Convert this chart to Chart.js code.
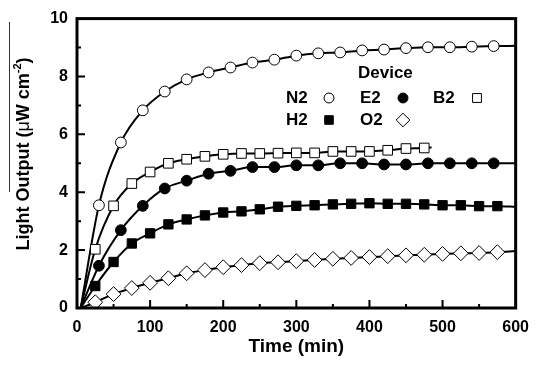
<!DOCTYPE html>
<html>
<head>
<meta charset="utf-8">
<script src="https://cdn.jsdelivr.net/npm/chart.js@4.4.0/dist/chart.umd.min.js"></script>
<style>
    html, body { margin: 0; padding: 0; background: #fff; }
    #wrap { width: 539px; height: 365px; }
</style>
</head>
<body>
<div id="wrap"><canvas id="myChart"></canvas></div>
<script>
// values (time in min, light output in uW/cm2)
const n2Time = [30, 60, 90, 120, 150, 180, 210, 240, 270, 300, 330, 360, 390, 420, 450, 480, 510, 540, 570];
const n2Values = [3.55, 5.72, 6.83, 7.48, 7.9, 8.14, 8.31, 8.48, 8.58, 8.72, 8.8, 8.83, 8.9, 8.93, 8.98, 9.01, 9.01, 9.03, 9.05];

const e2Time = [30, 60, 90, 120, 150, 180, 210, 240, 270, 300, 330, 360, 390, 420, 450, 480, 510, 540, 570];
const e2Values = [1.46, 2.69, 3.53, 4.13, 4.4, 4.64, 4.74, 4.87, 4.87, 4.93, 4.93, 5.0, 5.0, 4.96, 4.96, 5.0, 5.0, 5.0, 5.0];

const b2Time = [25, 50, 75, 100, 125, 150, 175, 200, 225, 250, 275, 300, 325, 350, 375, 400, 425, 450, 475];
const b2Values = [2.03, 3.53, 4.3, 4.7, 5.0, 5.14, 5.24, 5.31, 5.34, 5.34, 5.35, 5.36, 5.36, 5.41, 5.41, 5.41, 5.45, 5.51, 5.53];

const h2Time = [25, 50, 75, 100, 125, 150, 175, 200, 225, 250, 275, 300, 325, 350, 375, 400, 425, 450, 475, 500, 525, 550, 575];
const h2Values = [0.76, 1.59, 2.23, 2.58, 2.89, 3.06, 3.2, 3.3, 3.34, 3.41, 3.5, 3.53, 3.55, 3.58, 3.6, 3.62, 3.6, 3.6, 3.58, 3.55, 3.55, 3.52, 3.52];

const o2Time = [25, 50, 75, 100, 125, 150, 175, 200, 225, 250, 275, 300, 325, 350, 375, 400, 425, 450, 475, 500, 525, 550, 575];
const o2Values = [0.2, 0.48, 0.69, 0.87, 1.03, 1.2, 1.31, 1.41, 1.48, 1.55, 1.58, 1.62, 1.66, 1.7, 1.73, 1.76, 1.79, 1.82, 1.84, 1.87, 1.89, 1.9, 1.93];

// fitted curves: start point, then through the markers, then end point
const fitStart = { x: 5, y: 0 };
const n2FitEnd = { x: 600, y: 9.06 };
const e2FitEnd = { x: 600, y: 5.0 };
const b2FitEnd = { x: 485, y: 5.55 };
const h2FitEnd = { x: 600, y: 3.5 };
const o2FitEnd = { x: 600, y: 1.97 };

const legendRows = [
    [{ name: 'N2', key: 'n2' }, { name: 'E2', key: 'e2' }, { name: 'B2', key: 'b2' }],
    [{ name: 'H2', key: 'h2' }, { name: 'O2', key: 'o2' }]
];

const markerStyle = {
    n2: { pointStyle: 'circle', radius: 5.4, fill: '#fff' },
    e2: { pointStyle: 'circle', radius: 5.4, fill: '#000' },
    b2: { pointStyle: 'rect', radius: 6.8, fill: '#fff' },
    h2: { pointStyle: 'rect', radius: 6.6, fill: '#000' },
    o2: { pointStyle: 'rectRot', radius: 7.4, fill: '#fff' }
};

function toPoints(times, values) {
    return times.map((t, i) => ({ x: t, y: values[i] }));
}

function fitLine(times, values, end) {
    return {
        type: 'line',
        data: [fitStart].concat(toPoints(times, values), [end]),
        borderColor: '#000',
        borderWidth: 2,
        pointRadius: 0,
        cubicInterpolationMode: 'monotone',
        fill: false,
        order: 2
    };
}

function markers(times, values, key) {
    const m = markerStyle[key];
    return {
        type: 'line',
        showLine: false,
        data: toPoints(times, values),
        pointStyle: m.pointStyle,
        pointRadius: m.radius,
        pointBackgroundColor: m.fill,
        pointBorderColor: '#000',
        pointBorderWidth: 1,
        order: 1
    };
}

const frameAndLegend = {
    id: 'frameAndLegend',
    afterDraw(chart) {
        const ctx = chart.ctx;
        const a = chart.chartArea;
        const xs = chart.scales.x;
        const ys = chart.scales.y;
        ctx.save();
        ctx.strokeStyle = '#000';

        // inward ticks
        ctx.lineWidth = 2;
        ctx.beginPath();
        for (let v = 50; v < 600; v += 50) {
            const px = xs.getPixelForValue(v);
            const len = v % 100 === 0 ? 8 : 4;
            ctx.moveTo(px, a.bottom);
            ctx.lineTo(px, a.bottom - len);
        }
        for (let v = 1; v < 10; v += 1) {
            const py = ys.getPixelForValue(v);
            const len = v % 2 === 0 ? 8 : 4;
            ctx.moveTo(a.left, py);
            ctx.lineTo(a.left + len, py);
        }
        ctx.stroke();

        // frame
        ctx.lineWidth = 3;
        ctx.strokeRect(a.left, a.top, a.right - a.left, a.bottom - a.top);

        // legend
        ctx.fillStyle = '#000';
        ctx.font = 'bold 17px "Liberation Sans", Arial, sans-serif';
        ctx.textBaseline = 'middle';
        ctx.textAlign = 'left';
        ctx.fillText('Device', 358, 73);
        const textX = [286, 360, 433];
        const markX = [329, 403, 477];
        const rowY = [98, 120];
        legendRows.forEach((row, r) => {
            row.forEach((item, c) => {
                ctx.fillStyle = '#000';
                ctx.fillText(item.name, textX[c], rowY[r]);
                const m = markerStyle[item.key];
                ctx.fillStyle = m.fill;
                ctx.strokeStyle = '#000';
                ctx.lineWidth = 1;
                Chart.helpers.drawPoint(ctx, {
                    pointStyle: m.pointStyle,
                    radius: m.radius * 0.92,
                    borderWidth: 1,
                    rotation: 0
                }, markX[c], rowY[r]);
            });
        });

        // y axis title with superscript
        ctx.fillStyle = '#000';
        ctx.translate(29, 154);
        ctx.rotate(-Math.PI / 2);
        ctx.textBaseline = 'alphabetic';
        const bold = 'bold 18px "Liberation Sans", Arial, sans-serif';
        const plain = '18px "Liberation Sans", Arial, sans-serif';
        const small = 'bold 11px "Liberation Sans", Arial, sans-serif';
        const parts = [
            { t: 'Light Output (', f: bold, dy: 0 },
            { t: 'μ', f: plain, dy: 0 },
            { t: 'W cm', f: bold, dy: 0 },
            { t: '-2', f: small, dy: -8 },
            { t: ')', f: bold, dy: 0 }
        ];
        let total = 0;
        parts.forEach(p => { ctx.font = p.f; p.w = ctx.measureText(p.t).width; total += p.w; });
        let cx = -total / 2;
        parts.forEach(p => {
            ctx.font = p.f;
            ctx.fillText(p.t, cx, p.dy);
            cx += p.w;
        });
        ctx.restore();

        // thin stray line left of the y title
        ctx.save();
        ctx.strokeStyle = '#333';
        ctx.lineWidth = 1;
        ctx.beginPath();
        ctx.moveTo(9.5, 22);
        ctx.lineTo(9.5, 192);
        ctx.stroke();
        ctx.restore();
    }
};

const tickFont = { family: '"Liberation Sans", Arial, sans-serif', size: 16, weight: 'bold' };

const config = {
    type: 'line',
    data: {
        datasets: [
            markers(n2Time, n2Values, 'n2'),
            markers(e2Time, e2Values, 'e2'),
            markers(b2Time, b2Values, 'b2'),
            markers(h2Time, h2Values, 'h2'),
            markers(o2Time, o2Values, 'o2'),
            fitLine(n2Time, n2Values, n2FitEnd),
            fitLine(e2Time, e2Values, e2FitEnd),
            fitLine(b2Time, b2Values, b2FitEnd),
            fitLine(h2Time, h2Values, h2FitEnd),
            fitLine(o2Time, o2Values, o2FitEnd)
        ]
    },
    options: {
        responsive: true,
        maintainAspectRatio: false,
        animation: false,
        layout: { padding: { top: 18, right: 17, left: 0, bottom: 0 } },
        plugins: {
            legend: { display: false },
            tooltip: { enabled: false }
        },
        scales: {
            x: {
                type: 'linear',
                position: 'bottom',
                min: 0,
                max: 600,
                grid: { display: false, drawTicks: false },
                border: { display: false },
                ticks: { stepSize: 100, color: '#000', font: tickFont, padding: 10 },
                title: {
                    display: true,
                    text: 'Time (min)',
                    color: '#000',
                    font: { family: '"Liberation Sans", Arial, sans-serif', size: 19, weight: 'bold' },
                    padding: { top: 0, bottom: 7 }
                },
                afterFit: (s) => { s.height = 57; }
            },
            y: {
                min: 0,
                max: 10,
                grid: { display: false, drawTicks: false },
                border: { display: false },
                ticks: { stepSize: 2, color: '#000', font: tickFont, padding: 9 },
                afterFit: (s) => { s.width = 77; }
            }
        }
    },
    plugins: [frameAndLegend]
};

let myChart = new Chart(document.getElementById('myChart'), config);
</script>
</body>
</html>
